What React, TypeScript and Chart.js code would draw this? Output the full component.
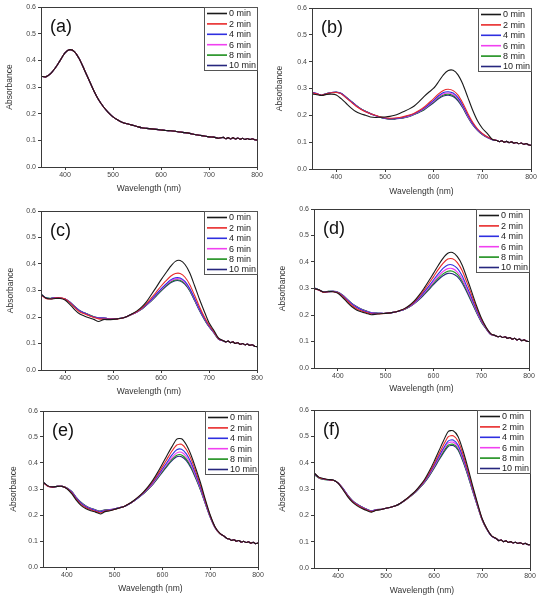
import React, { useEffect, useRef } from "react";
import { Chart, registerables } from "chart.js";

Chart.register(...registerables);

// ---------- shared axes / legend data ----------
const WL_HEAD = [350, 360, 370, 380, 390, 400, 410, 420, 430, 440, 450, 460, 470, 480, 490, 500, 510, 520, 530, 540, 550, 560, 570, 580, 590, 600, 610, 620, 630, 640, 650, 660, 670, 680, 690, 700, 710, 720];
const WL_TAIL = [730, 735, 740, 745, 750, 755, 760, 765, 770, 775, 780, 785, 790, 795, 800];
const SERIES_LABELS = ["0 min", "2 min", "4 min", "6 min", "8 min", "10 min"];
const SERIES_COLORS = ["#1a1a1a", "#e82a2a", "#2f2fe0", "#f040f0", "#1c8f1c", "#26267e"];
const X_TICKS = [400, 500, 600, 700, 800];
const Y_TICKS = [0, 0.1, 0.2, 0.3, 0.4, 0.5, 0.6];
const PANEL_LABELS = ["(a)", "(b)", "(c)", "(d)", "(e)", "(f)"];

// ---------- panel (a) ----------
const A_ALL = [0.340, 0.338, 0.350, 0.372, 0.400, 0.428, 0.440, 0.432, 0.405, 0.366, 0.326, 0.286, 0.252, 0.226, 0.205, 0.188, 0.176, 0.167, 0.162, 0.157, 0.152, 0.147, 0.145, 0.143, 0.141, 0.139, 0.137, 0.136, 0.134, 0.131, 0.129, 0.126, 0.122, 0.119, 0.116, 0.113, 0.112, 0.108];
const A_TAIL = [0.111, 0.106, 0.110, 0.105, 0.110, 0.105, 0.109, 0.104, 0.108, 0.103, 0.107, 0.103, 0.106, 0.102, 0.101];

// ---------- panel (b) ----------
const B0 = [0.279, 0.277, 0.274, 0.278, 0.279, 0.276, 0.262, 0.245, 0.228, 0.214, 0.206, 0.200, 0.194, 0.192, 0.193, 0.194, 0.196, 0.200, 0.207, 0.215, 0.224, 0.235, 0.251, 0.270, 0.286, 0.301, 0.325, 0.351, 0.367, 0.368, 0.351, 0.316, 0.268, 0.220, 0.180, 0.152, 0.133, 0.111];
const B2 = [0.285, 0.280, 0.275, 0.280, 0.284, 0.285, 0.280, 0.265, 0.250, 0.235, 0.223, 0.213, 0.206, 0.200, 0.195, 0.191, 0.189, 0.190, 0.192, 0.196, 0.201, 0.208, 0.218, 0.230, 0.246, 0.262, 0.280, 0.293, 0.297, 0.292, 0.275, 0.245, 0.208, 0.175, 0.150, 0.133, 0.120, 0.111];
const B4 = [0.286, 0.281, 0.274, 0.281, 0.285, 0.286, 0.281, 0.267, 0.252, 0.237, 0.224, 0.214, 0.206, 0.199, 0.193, 0.189, 0.187, 0.188, 0.190, 0.194, 0.199, 0.206, 0.215, 0.226, 0.241, 0.256, 0.273, 0.285, 0.288, 0.283, 0.266, 0.237, 0.201, 0.170, 0.147, 0.131, 0.119, 0.110];
const B6 = [0.285, 0.280, 0.275, 0.280, 0.285, 0.286, 0.281, 0.267, 0.252, 0.237, 0.224, 0.214, 0.206, 0.199, 0.193, 0.189, 0.187, 0.188, 0.190, 0.193, 0.198, 0.205, 0.213, 0.224, 0.238, 0.253, 0.269, 0.280, 0.283, 0.278, 0.262, 0.233, 0.198, 0.168, 0.146, 0.130, 0.118, 0.110];
const B8 = [0.284, 0.279, 0.275, 0.281, 0.285, 0.286, 0.281, 0.268, 0.253, 0.238, 0.225, 0.215, 0.206, 0.199, 0.193, 0.188, 0.186, 0.187, 0.189, 0.192, 0.197, 0.204, 0.212, 0.222, 0.236, 0.250, 0.266, 0.276, 0.279, 0.274, 0.258, 0.230, 0.196, 0.167, 0.145, 0.129, 0.118, 0.110];
const B10 = [0.285, 0.280, 0.276, 0.281, 0.285, 0.287, 0.282, 0.268, 0.253, 0.238, 0.225, 0.215, 0.207, 0.199, 0.193, 0.188, 0.186, 0.186, 0.188, 0.191, 0.196, 0.203, 0.211, 0.220, 0.234, 0.247, 0.262, 0.272, 0.275, 0.270, 0.254, 0.227, 0.194, 0.165, 0.144, 0.128, 0.117, 0.109];
const B_TAIL = [0.106, 0.102, 0.105, 0.100, 0.103, 0.098, 0.101, 0.096, 0.099, 0.094, 0.097, 0.092, 0.095, 0.090, 0.088];

// ---------- panel (c) ----------
const C0 = [0.286, 0.272, 0.268, 0.270, 0.270, 0.264, 0.248, 0.228, 0.212, 0.204, 0.197, 0.191, 0.183, 0.190, 0.190, 0.191, 0.193, 0.196, 0.203, 0.212, 0.223, 0.238, 0.258, 0.285, 0.312, 0.340, 0.366, 0.391, 0.410, 0.413, 0.398, 0.366, 0.318, 0.268, 0.222, 0.178, 0.150, 0.120];
const C2 = [0.284, 0.270, 0.268, 0.272, 0.272, 0.268, 0.254, 0.236, 0.220, 0.212, 0.205, 0.198, 0.193, 0.192, 0.192, 0.192, 0.193, 0.196, 0.203, 0.211, 0.221, 0.234, 0.251, 0.272, 0.294, 0.316, 0.336, 0.354, 0.364, 0.364, 0.350, 0.322, 0.282, 0.240, 0.202, 0.170, 0.145, 0.118];
const C4 = [0.286, 0.272, 0.270, 0.273, 0.272, 0.268, 0.256, 0.239, 0.224, 0.215, 0.207, 0.200, 0.196, 0.196, 0.194, 0.193, 0.194, 0.196, 0.203, 0.211, 0.220, 0.232, 0.248, 0.266, 0.286, 0.306, 0.324, 0.340, 0.348, 0.347, 0.334, 0.307, 0.270, 0.231, 0.196, 0.166, 0.143, 0.117];
const C6 = [0.285, 0.271, 0.270, 0.273, 0.272, 0.268, 0.256, 0.239, 0.224, 0.215, 0.207, 0.200, 0.196, 0.196, 0.194, 0.193, 0.194, 0.196, 0.202, 0.210, 0.219, 0.231, 0.247, 0.264, 0.284, 0.303, 0.321, 0.336, 0.344, 0.343, 0.330, 0.304, 0.267, 0.229, 0.195, 0.165, 0.142, 0.117];
const C8 = [0.287, 0.273, 0.271, 0.273, 0.272, 0.268, 0.256, 0.240, 0.225, 0.216, 0.208, 0.201, 0.196, 0.196, 0.194, 0.193, 0.194, 0.196, 0.202, 0.210, 0.219, 0.230, 0.246, 0.262, 0.281, 0.300, 0.318, 0.332, 0.340, 0.339, 0.326, 0.300, 0.264, 0.227, 0.193, 0.164, 0.141, 0.116];
const C10 = [0.286, 0.272, 0.270, 0.273, 0.272, 0.268, 0.257, 0.240, 0.225, 0.216, 0.208, 0.201, 0.197, 0.196, 0.194, 0.193, 0.194, 0.196, 0.202, 0.210, 0.219, 0.230, 0.245, 0.261, 0.279, 0.298, 0.315, 0.329, 0.337, 0.336, 0.323, 0.298, 0.262, 0.225, 0.192, 0.163, 0.141, 0.116];
const C_TAIL = [0.110, 0.106, 0.109, 0.103, 0.106, 0.100, 0.103, 0.097, 0.100, 0.095, 0.098, 0.093, 0.095, 0.090, 0.088];

// ---------- panel (d) ----------
const D0 = [0.300, 0.295, 0.287, 0.288, 0.288, 0.282, 0.266, 0.247, 0.230, 0.218, 0.211, 0.206, 0.201, 0.203, 0.205, 0.206, 0.208, 0.211, 0.217, 0.225, 0.237, 0.253, 0.275, 0.300, 0.328, 0.357, 0.387, 0.414, 0.433, 0.436, 0.420, 0.389, 0.340, 0.288, 0.236, 0.190, 0.155, 0.130];
const D2 = [0.300, 0.294, 0.285, 0.288, 0.288, 0.284, 0.270, 0.252, 0.235, 0.223, 0.215, 0.209, 0.204, 0.204, 0.205, 0.206, 0.208, 0.211, 0.217, 0.224, 0.235, 0.250, 0.270, 0.293, 0.318, 0.344, 0.371, 0.395, 0.411, 0.412, 0.398, 0.368, 0.323, 0.276, 0.228, 0.186, 0.153, 0.129];
const D4 = [0.302, 0.294, 0.286, 0.288, 0.289, 0.285, 0.273, 0.256, 0.240, 0.228, 0.219, 0.212, 0.207, 0.206, 0.206, 0.206, 0.208, 0.211, 0.216, 0.223, 0.233, 0.247, 0.265, 0.286, 0.308, 0.332, 0.355, 0.376, 0.389, 0.389, 0.376, 0.348, 0.307, 0.264, 0.220, 0.181, 0.151, 0.128];
const D6 = [0.301, 0.294, 0.286, 0.288, 0.289, 0.285, 0.274, 0.257, 0.241, 0.229, 0.220, 0.213, 0.208, 0.206, 0.206, 0.206, 0.208, 0.211, 0.216, 0.223, 0.232, 0.245, 0.262, 0.282, 0.303, 0.325, 0.346, 0.364, 0.375, 0.375, 0.362, 0.336, 0.298, 0.257, 0.215, 0.178, 0.150, 0.127];
const D8 = [0.302, 0.295, 0.286, 0.289, 0.289, 0.286, 0.275, 0.258, 0.242, 0.230, 0.221, 0.214, 0.208, 0.207, 0.206, 0.206, 0.208, 0.211, 0.216, 0.222, 0.231, 0.244, 0.260, 0.279, 0.299, 0.320, 0.339, 0.355, 0.365, 0.365, 0.353, 0.328, 0.292, 0.252, 0.212, 0.176, 0.149, 0.127];
const D10 = [0.303, 0.295, 0.287, 0.289, 0.289, 0.286, 0.275, 0.259, 0.243, 0.231, 0.222, 0.215, 0.209, 0.207, 0.206, 0.206, 0.208, 0.211, 0.216, 0.222, 0.231, 0.243, 0.258, 0.276, 0.295, 0.315, 0.333, 0.348, 0.357, 0.356, 0.345, 0.321, 0.286, 0.248, 0.209, 0.174, 0.148, 0.126];
const D_TAIL = [0.122, 0.118, 0.120, 0.115, 0.118, 0.112, 0.115, 0.109, 0.112, 0.106, 0.109, 0.103, 0.106, 0.101, 0.100];

// ---------- panel (e) ----------
const E0 = [0.327, 0.312, 0.308, 0.310, 0.310, 0.301, 0.282, 0.256, 0.236, 0.224, 0.216, 0.211, 0.204, 0.213, 0.216, 0.222, 0.227, 0.233, 0.243, 0.256, 0.271, 0.288, 0.309, 0.334, 0.364, 0.397, 0.431, 0.463, 0.492, 0.493, 0.470, 0.430, 0.378, 0.322, 0.258, 0.200, 0.155, 0.130];
const E2 = [0.325, 0.311, 0.307, 0.310, 0.310, 0.302, 0.285, 0.260, 0.240, 0.228, 0.220, 0.214, 0.208, 0.215, 0.217, 0.222, 0.227, 0.233, 0.243, 0.255, 0.270, 0.286, 0.306, 0.329, 0.356, 0.386, 0.416, 0.446, 0.469, 0.472, 0.452, 0.415, 0.366, 0.313, 0.253, 0.197, 0.154, 0.129];
const E4 = [0.326, 0.311, 0.307, 0.310, 0.310, 0.303, 0.288, 0.264, 0.245, 0.232, 0.223, 0.217, 0.212, 0.217, 0.219, 0.223, 0.228, 0.233, 0.242, 0.254, 0.268, 0.284, 0.303, 0.325, 0.350, 0.377, 0.404, 0.431, 0.451, 0.453, 0.435, 0.401, 0.355, 0.305, 0.248, 0.194, 0.153, 0.129];
const E6 = [0.326, 0.312, 0.308, 0.310, 0.310, 0.303, 0.289, 0.265, 0.246, 0.233, 0.224, 0.218, 0.213, 0.218, 0.220, 0.223, 0.228, 0.233, 0.242, 0.254, 0.268, 0.283, 0.301, 0.322, 0.346, 0.372, 0.397, 0.421, 0.439, 0.441, 0.424, 0.392, 0.348, 0.300, 0.245, 0.193, 0.152, 0.129];
const E8 = [0.327, 0.312, 0.308, 0.310, 0.310, 0.304, 0.290, 0.266, 0.247, 0.234, 0.225, 0.219, 0.214, 0.219, 0.220, 0.223, 0.228, 0.233, 0.242, 0.254, 0.267, 0.282, 0.300, 0.320, 0.343, 0.368, 0.392, 0.414, 0.430, 0.431, 0.415, 0.385, 0.343, 0.296, 0.243, 0.192, 0.152, 0.128];
const E10 = [0.327, 0.312, 0.308, 0.310, 0.310, 0.304, 0.291, 0.267, 0.248, 0.235, 0.226, 0.220, 0.215, 0.220, 0.221, 0.224, 0.228, 0.233, 0.242, 0.254, 0.267, 0.281, 0.299, 0.318, 0.341, 0.365, 0.388, 0.409, 0.424, 0.424, 0.409, 0.380, 0.339, 0.294, 0.242, 0.191, 0.151, 0.128];
const E_TAIL = [0.117, 0.110, 0.108, 0.102, 0.105, 0.099, 0.102, 0.096, 0.099, 0.094, 0.097, 0.092, 0.095, 0.090, 0.092];

// ---------- panel (f) ----------
const F0 = [0.362, 0.345, 0.340, 0.336, 0.334, 0.322, 0.298, 0.271, 0.250, 0.236, 0.226, 0.218, 0.212, 0.219, 0.222, 0.227, 0.231, 0.236, 0.246, 0.259, 0.274, 0.290, 0.311, 0.335, 0.367, 0.404, 0.444, 0.484, 0.519, 0.521, 0.499, 0.448, 0.385, 0.316, 0.250, 0.189, 0.150, 0.122];
const F2 = [0.360, 0.344, 0.338, 0.335, 0.333, 0.323, 0.300, 0.274, 0.253, 0.239, 0.229, 0.220, 0.214, 0.220, 0.222, 0.227, 0.231, 0.236, 0.246, 0.258, 0.273, 0.289, 0.309, 0.332, 0.361, 0.395, 0.432, 0.468, 0.499, 0.502, 0.482, 0.434, 0.374, 0.309, 0.246, 0.187, 0.149, 0.122];
const F4 = [0.358, 0.343, 0.337, 0.335, 0.333, 0.323, 0.302, 0.276, 0.255, 0.241, 0.231, 0.222, 0.215, 0.221, 0.222, 0.227, 0.231, 0.236, 0.246, 0.258, 0.272, 0.288, 0.307, 0.329, 0.357, 0.389, 0.423, 0.456, 0.483, 0.486, 0.467, 0.422, 0.365, 0.303, 0.243, 0.186, 0.148, 0.121];
const F6 = [0.359, 0.344, 0.338, 0.335, 0.333, 0.323, 0.302, 0.276, 0.255, 0.241, 0.231, 0.222, 0.216, 0.221, 0.223, 0.227, 0.231, 0.236, 0.246, 0.258, 0.272, 0.287, 0.306, 0.327, 0.354, 0.385, 0.418, 0.450, 0.475, 0.478, 0.460, 0.416, 0.361, 0.300, 0.241, 0.185, 0.148, 0.121];
const F8 = [0.355, 0.342, 0.336, 0.334, 0.333, 0.323, 0.302, 0.277, 0.256, 0.242, 0.232, 0.223, 0.216, 0.221, 0.223, 0.227, 0.231, 0.236, 0.245, 0.257, 0.271, 0.286, 0.305, 0.325, 0.351, 0.381, 0.413, 0.443, 0.467, 0.470, 0.453, 0.410, 0.357, 0.297, 0.239, 0.184, 0.147, 0.121];
const F10 = [0.360, 0.344, 0.338, 0.335, 0.333, 0.323, 0.303, 0.277, 0.256, 0.242, 0.232, 0.223, 0.217, 0.222, 0.223, 0.227, 0.231, 0.236, 0.245, 0.257, 0.271, 0.285, 0.304, 0.324, 0.349, 0.378, 0.409, 0.438, 0.462, 0.465, 0.448, 0.406, 0.354, 0.295, 0.238, 0.184, 0.147, 0.121];
const F_TAIL = [0.111, 0.104, 0.106, 0.100, 0.103, 0.097, 0.100, 0.095, 0.098, 0.093, 0.096, 0.091, 0.094, 0.089, 0.088];

const PANEL_SERIES = [
  { heads: [A_ALL, A_ALL, A_ALL, A_ALL, A_ALL, A_ALL], tail: A_TAIL },
  { heads: [B0, B2, B4, B6, B8, B10], tail: B_TAIL },
  { heads: [C0, C2, C4, C6, C8, C10], tail: C_TAIL },
  { heads: [D0, D2, D4, D6, D8, D10], tail: D_TAIL },
  { heads: [E0, E2, E4, E6, E8, E10], tail: E_TAIL },
  { heads: [F0, F2, F4, F6, F8, F10], tail: F_TAIL },
];

// ---------- layout (pixels) ----------
const LAYOUT = [
  { left: 0, top: 0, w: 275, h: 197, yW: 41, padTop: 7, padRight: 18, xH: 30, xTitlePad: 3, yTitlePad: 5 },
  { left: 275, top: 0, w: 274, h: 197, yW: 37, padTop: 8, padRight: 18, xH: 28, xTitlePad: 0, yTitlePad: 0 },
  { left: 0, top: 197, w: 275, h: 203, yW: 41, padTop: 14, padRight: 18, xH: 30, xTitlePad: 3, yTitlePad: 6 },
  { left: 275, top: 197, w: 274, h: 203, yW: 39, padTop: 12, padRight: 20, xH: 32, xTitlePad: 6, yTitlePad: 3 },
  { left: 0, top: 400, w: 275, h: 213, yW: 43, padTop: 11, padRight: 17, xH: 46, xTitlePad: 19, yTitlePad: 9 },
  { left: 275, top: 400, w: 274, h: 213, yW: 39, padTop: 10, padRight: 19, xH: 45, xTitlePad: 17, yTitlePad: 3 },
];

const FONT = "'Liberation Sans', Arial, sans-serif";
const AXIS_COLOR = "#3a3a3a";

const framePlugin = {
  id: "frameBox",
  afterDatasetsDraw(chart: any) {
    const { ctx, chartArea } = chart;
    ctx.save();
    ctx.strokeStyle = AXIS_COLOR;
    ctx.lineWidth = 1;
    ctx.strokeRect(Math.round(chartArea.left) + 0.5, Math.round(chartArea.top) + 0.5, Math.round(chartArea.right - chartArea.left), Math.round(chartArea.bottom - chartArea.top));
    ctx.restore();
  },
};

function makeOverlayPlugin(label: string) {
  return {
    id: "overlay",
    afterDraw(chart: any) {
      const { ctx, chartArea } = chart;
      ctx.save();
      // panel label
      ctx.fillStyle = "#111";
      ctx.font = "18px 'Liberation Sans', Arial, sans-serif";
      ctx.textBaseline = "middle";
      ctx.textAlign = "left";
      ctx.fillText(label, chartArea.left + 9, chartArea.top + 20);
      // legend box
      const bw = 53;
      const bh = 63;
      const bx = Math.round(chartArea.right) - bw;
      const by = Math.round(chartArea.top);
      ctx.fillStyle = "#fff";
      ctx.fillRect(bx, by, bw, bh);
      ctx.strokeStyle = "#555";
      ctx.lineWidth = 1;
      ctx.strokeRect(bx + 0.5, by + 0.5, bw, bh);
      ctx.font = "9px " + FONT;
      chart.data.datasets.forEach((ds: any, i: number) => {
        const y = by + 6.5 + i * 10.4;
        ctx.strokeStyle = ds.borderColor;
        ctx.lineWidth = 1.6;
        ctx.beginPath();
        ctx.moveTo(bx + 3, y);
        ctx.lineTo(bx + 23, y);
        ctx.stroke();
        ctx.fillStyle = "#222";
        ctx.fillText(ds.label, bx + 25, y + 0.5);
      });
      ctx.restore();
    },
  };
}

function Panel({ index }: { index: number }) {
  const ref = useRef<HTMLCanvasElement | null>(null);
  const L = LAYOUT[index];
  useEffect(() => {
    const series = PANEL_SERIES[index];
    const wl = [...WL_HEAD, ...WL_TAIL];
    const datasets = series.heads.map((head, i) => {
      const ys = [...head, ...series.tail];
      return {
        label: SERIES_LABELS[i],
        data: ys.map((y, k) => ({ x: wl[k], y })),
        borderColor: SERIES_COLORS[i],
        backgroundColor: SERIES_COLORS[i],
        borderWidth: 1.1,
        pointRadius: 0,
        tension: 0.25,
        fill: false,
      };
    });
    const tickFont = { family: FONT, size: 7 };
    const titleFont = { family: FONT, size: 8.5 };
    const chart = new Chart(ref.current as HTMLCanvasElement, {
      type: "line",
      data: { datasets },
      options: {
        animation: false,
        responsive: false,
        maintainAspectRatio: false,
        layout: { padding: { top: L.padTop, right: L.padRight, left: 0, bottom: 0 } },
        plugins: { legend: { display: false }, tooltip: { enabled: false } },
        scales: {
          x: {
            type: "linear",
            min: 350,
            max: 800,
            afterBuildTicks: (s: any) => {
              s.ticks = X_TICKS.map((v) => ({ value: v }));
            },
            afterFit: (s: any) => {
              s.height = L.xH;
            },
            ticks: { font: tickFont, color: "#444", padding: 1, maxRotation: 0, autoSkip: false },
            grid: { display: true, drawOnChartArea: false, drawTicks: true, tickLength: 3, color: AXIS_COLOR },
            border: { display: true, color: AXIS_COLOR, width: 1 },
            title: { display: true, text: "Wavelength (nm)", font: titleFont, color: "#333", padding: { top: 0, bottom: L.xTitlePad } },
          },
          y: {
            type: "linear",
            min: 0,
            max: 0.6,
            afterBuildTicks: (s: any) => {
              s.ticks = Y_TICKS.map((v) => ({ value: v }));
            },
            afterFit: (s: any) => {
              s.width = L.yW;
            },
            ticks: { font: tickFont, color: "#444", padding: 2, callback: (v: any) => Number(v).toFixed(1) },
            grid: { display: true, drawOnChartArea: false, drawTicks: true, tickLength: 3, color: AXIS_COLOR },
            border: { display: true, color: AXIS_COLOR, width: 1 },
            title: { display: true, text: "Absorbance", font: titleFont, color: "#333", padding: { top: L.yTitlePad, bottom: 0 } },
          },
        },
      } as any,
      plugins: [framePlugin, makeOverlayPlugin(PANEL_LABELS[index])],
    });
    return () => chart.destroy();
  }, [index]);
  return (
    <canvas
      ref={ref}
      width={L.w}
      height={L.h}
      style={{ position: "absolute", left: L.left, top: L.top, width: L.w, height: L.h }}
    />
  );
}

export default function App() {
  return (
    <div style={{ position: "absolute", left: 0, top: 0, width: 549, height: 613, background: "#fff", overflow: "hidden" }}>
      {LAYOUT.map((_, i) => (
        <Panel key={i} index={i} />
      ))}
    </div>
  );
}
